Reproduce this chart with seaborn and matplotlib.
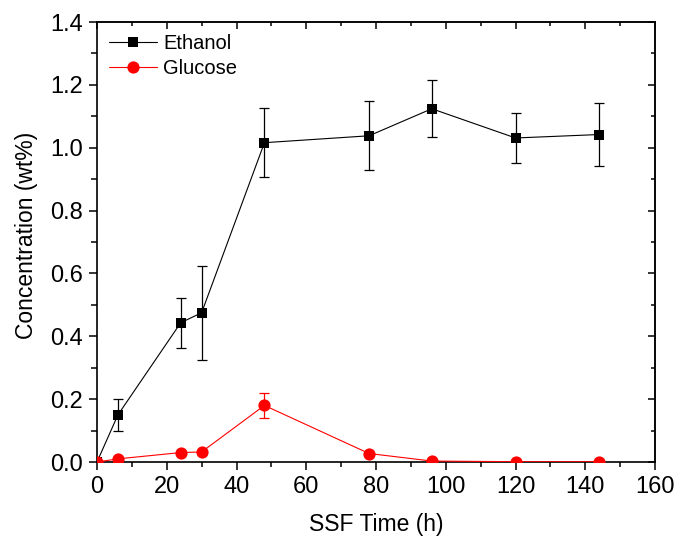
import numpy as np
import pandas as pd
import matplotlib
matplotlib.use("Agg")
import matplotlib.pyplot as plt
import seaborn as sns
from matplotlib.ticker import MultipleLocator

time_h = [0, 6, 24, 30, 48, 78, 96, 120, 144]
ethanol = [0.0, 0.15, 0.443, 0.475, 1.016, 1.038, 1.124, 1.031, 1.042]
ethanol_err = [0.0, 0.05, 0.08, 0.15, 0.11, 0.11, 0.09, 0.08, 0.10]
glucose = [0.0, 0.01, 0.030, 0.032, 0.180, 0.027, 0.003, 0.001, 0.001]
glucose_err = [0.0, 0.0, 0.0, 0.0, 0.04, 0.0, 0.0, 0.0, 0.0]

sns.set_style("ticks")
plt.rcParams['font.family'] = ['Liberation Sans', 'DejaVu Sans']
plt.rcParams['text.color'] = 'black'
plt.rcParams['axes.labelcolor'] = 'black'
plt.rcParams['xtick.color'] = 'black'
plt.rcParams['ytick.color'] = 'black'

fig = plt.figure(figsize=(6.76, 5.42), dpi=100)
ax = fig.add_axes([0.1435, 0.1476, 0.8255, 0.8118])

df_e = pd.DataFrame({"t": time_h, "c": ethanol})
df_g = pd.DataFrame({"t": time_h, "c": glucose})

ax.errorbar(time_h, ethanol, yerr=ethanol_err, fmt='none', ecolor='black',
            elinewidth=0.9, capsize=3.5, capthick=0.9, zorder=2)
ax.errorbar(time_h, glucose, yerr=glucose_err, fmt='none', ecolor='red',
            elinewidth=0.9, capsize=3.5, capthick=0.9, zorder=2)

sns.lineplot(data=df_e, x="t", y="c", ax=ax, color='black', marker='s',
             markersize=7.8, markeredgewidth=0, linewidth=0.8, label='Ethanol', zorder=3)
sns.lineplot(data=df_g, x="t", y="c", ax=ax, color='red', marker='o',
             markersize=8.8, markeredgewidth=0, linewidth=0.8, label='Glucose', zorder=3)

ax.set_xlim(0, 160)
ax.set_ylim(0, 1.4)
ax.xaxis.set_major_locator(MultipleLocator(20))
ax.xaxis.set_minor_locator(MultipleLocator(10))
ax.yaxis.set_major_locator(MultipleLocator(0.2))
ax.yaxis.set_minor_locator(MultipleLocator(0.1))
ax.yaxis.set_major_formatter(matplotlib.ticker.FormatStrFormatter('%.1f'))

for s in ax.spines.values():
    s.set_linewidth(1.2)
    s.set_color('black')

ax.tick_params(which='major', direction='out', length=6, width=1.1, labelsize=17,
               colors='black', pad=4)
ax.tick_params(axis='x', which='minor', direction='out', length=3.6, width=1.1)
ax.tick_params(axis='y', which='minor', direction='out', length=4.5, width=1.1)

secx = ax.secondary_xaxis('top')
secx.xaxis.set_major_locator(MultipleLocator(20))
secx.xaxis.set_minor_locator(MultipleLocator(10))
secx.tick_params(which='major', direction='in', length=5, width=1.1, labeltop=False)
secx.tick_params(which='minor', direction='in', length=3, width=1.1)
secx.spines['top'].set_linewidth(1.2)
secy = ax.secondary_yaxis('right')
secy.yaxis.set_major_locator(MultipleLocator(0.2))
secy.yaxis.set_minor_locator(MultipleLocator(0.1))
secy.tick_params(which='major', direction='in', length=5, width=1.1, labelright=False)
secy.tick_params(which='minor', direction='in', length=3, width=1.1)
secy.spines['right'].set_linewidth(1.2)

ax.set_xlabel("SSF Time (h)", fontsize=16.5, labelpad=11, color='black')
ax.set_ylabel("Concentration (wt%)", fontsize=16.5, labelpad=9, color='black')
ax.yaxis.label.set_y(0.516)

leg = ax.legend(loc='upper left', frameon=False, fontsize=14.5, handlelength=2.4,
                borderaxespad=0.15, borderpad=0.45, handletextpad=0.3, labelspacing=0.3)
for t in leg.get_texts():
    t.set_color('black')

fig.savefig("out.png", dpi=100)
